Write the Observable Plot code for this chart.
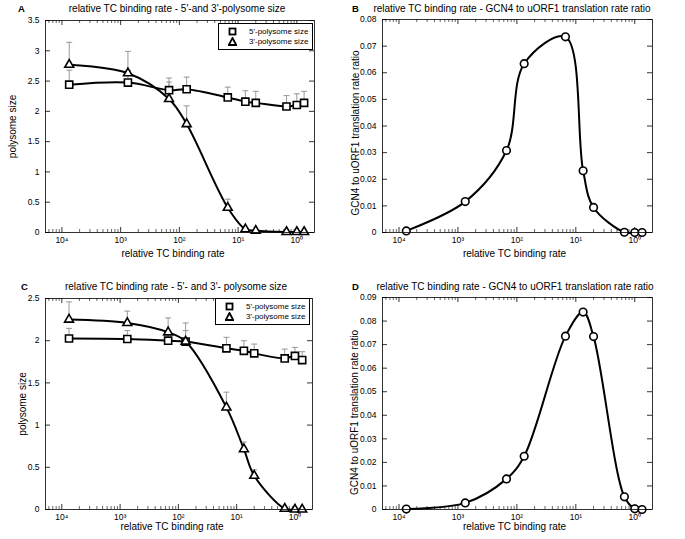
<!DOCTYPE html>
<html><head><meta charset="utf-8">
<script src="https://cdn.jsdelivr.net/npm/d3@7"></script>
<script src="https://cdn.jsdelivr.net/npm/@observablehq/plot@0.6"></script>
<style>
body{margin:0;background:#fff;font-family:"Liberation Sans",Arial,sans-serif;}
#wrap{position:relative;width:685px;height:539px;overflow:hidden;background:#fff;}
.title{position:absolute;font-size:10px;white-space:nowrap;transform:translateX(-50%);line-height:12px;}
.letter{position:absolute;font-size:9.5px;font-weight:bold;line-height:10px;}
.legend{position:absolute;border:1px solid #000;background:#fff;font-size:8px;line-height:10px;box-sizing:border-box;}
.legend div{position:relative;height:10px;padding-left:30px;}
.legend svg{position:absolute;left:9px;top:0;}
</style></head><body><div id="wrap"></div>
<script>
// ---- data ----
const rates = [0.000133, 0.00133, 0.00667, 0.0133, 0.0667, 0.133, 0.2, 0.667, 1, 1.33];
const xTickValues = [1e-4, 1e-3, 1e-2, 1e-1, 1];
const xTickLabels = ["10⁴", "10³", "10²", "10¹", "10⁰"];

const aPoly5 = [2.44, 2.475, 2.35, 2.365, 2.23, 2.16, 2.14, 2.08, 2.105, 2.14];
const aPoly5Err = [0.24, 0.2, 0.2, 0.2, 0.17, 0.18, 0.19, 0.18, 0.185, 0.19];
const aPoly3 = [2.77, 2.63, 2.205, 1.79, 0.41, 0.055, 0.03, 0.01, 0.01, 0.01];
const aPoly3Err = [0.37, 0.36, 0.28, 0.30, 0.14, 0.02, 0.01, 0, 0, 0];
const aYTicks = [0, 0.5, 1, 1.5, 2, 2.5, 3, 3.5];

const bRatio = [0.0006, 0.0116, 0.0308, 0.0634, 0.0735, 0.0232, 0.0094, 0.0001, 0, 0];
const bYTicks = [0, 0.01, 0.02, 0.03, 0.04, 0.05, 0.06, 0.07, 0.08];

const cPoly5 = [2.026, 2.02, 2.0, 1.99, 1.91, 1.88, 1.85, 1.79, 1.82, 1.77];
const cPoly5Err = [0.12, 0.1, 0.1, 0.13, 0.13, 0.12, 0.11, 0.11, 0.1, 0.1];
const cPoly3 = [2.25, 2.21, 2.10, 1.99, 1.21, 0.715, 0.40, 0.01, 0, 0];
const cPoly3Err = [0.21, 0.14, 0.17, 0.22, 0.18, 0.085, 0.07, 0, 0, 0];
const cYTicks = [0, 0.5, 1, 1.5, 2, 2.5];

const dRatio = [0.0002, 0.0028, 0.013, 0.0226, 0.0736, 0.0838, 0.0734, 0.0054, 0.0003, 0];
const dYTicks = [0, 0.01, 0.02, 0.03, 0.04, 0.05, 0.06, 0.07, 0.08, 0.09];

const xLabel = "relative TC binding rate";
const polyTitle = "relative TC binding rate - 5'-and 3'-polysome size";
const polyTitleC = "relative TC binding rate - 5'- and 3'- polysome size";
const ratioTitle = "relative TC binding rate - GCN4 to uORF1 translation rate ratio";
const polyYLabel = "polysome size";
const ratioYLabel = "GCN4 to uORF1 translation rate ratio";
const legendLabels = ["5'-polysome size", "3'-polysome size"];

// ---- helpers ----
const xDomain = [5.25e-5, 2];
const minorX = [];
for (let e = -5; e <= 0; e++) for (let m = 2; m <= 9; m++) {
  const v = m * Math.pow(10, e);
  if (v > xDomain[0] && v < xDomain[1]) minorX.push(v);
}
const cap = {draw(ctx, size) { const w = Math.sqrt(size / Math.PI); ctx.moveTo(-w, 0); ctx.lineTo(w, 0); }};
const rows = (ys, errs) => rates.map((x, i) => ({x, y: ys[i], top: ys[i] + (errs ? errs[i] : 0)}));

function makePanel(o) {
  const innerW = o.width - o.ml - o.mr;
  const innerH = o.height - o.mt - o.mb;
  const marks = [
    Plot.ruleX(xTickValues, {insetTop: innerH - 5, stroke: "#000", strokeWidth: 0.8}),
    Plot.ruleX(xTickValues, {insetBottom: innerH - 5, stroke: "#000", strokeWidth: 0.8}),
    Plot.ruleX(minorX, {insetTop: innerH - 3, stroke: "#000", strokeWidth: 0.6}),
    Plot.ruleX(minorX, {insetBottom: innerH - 3, stroke: "#000", strokeWidth: 0.6}),
    Plot.ruleY(o.yTicks, {insetRight: innerW - 5, stroke: "#000", strokeWidth: 0.8}),
    Plot.ruleY(o.yTicks, {insetLeft: innerW - 5, stroke: "#000", strokeWidth: 0.8}),
    Plot.axisX({ticks: xTickValues, tickSize: 0, tickPadding: 4, fontSize: 8.5,
      tickFormat: d => xTickLabels[xTickValues.indexOf(d)], label: null}),
    Plot.axisY({ticks: o.yTicks, tickSize: 0, tickPadding: 6, fontSize: 8.5,
      tickFormat: d => String(d), label: null}),
    Plot.text([xLabel], {text: d => d, frameAnchor: "bottom", textAnchor: "middle", dy: o.xlDy, dx: o.xlDx, fontSize: 10}),
    Plot.text([o.yLabel], {text: d => d, frameAnchor: "left", textAnchor: "middle", dx: o.ylDx, dy: o.ylDy, rotate: -90, fontSize: 10})
  ];
  for (const s of o.series) {
    if (s.err) {
      marks.push(Plot.ruleX(s.data, {x: "x", y1: "y", y2: "top", stroke: "#9a9a9a", strokeWidth: 1}));
      marks.push(Plot.dot(s.data, {x: "x", y: "top", symbol: cap, r: 3, stroke: "#9a9a9a", strokeWidth: 1}));
    }
  }
  for (const s of o.series) {
    marks.push(Plot.line(s.data, {x: "x", y: "y", curve: "catmull-rom", stroke: "#000", strokeWidth: 2}));
  }
  for (const s of o.series) {
    marks.push(Plot.dot(s.data, {x: "x", y: "y", symbol: s.symbol, r: s.r, fill: "#fff", stroke: "#000", strokeWidth: 1.6}));
  }
  marks.push(Plot.frame({stroke: "#000", strokeWidth: 0.8}));
  const svg = Plot.plot({
    width: o.width, height: o.height,
    marginLeft: o.ml, marginRight: o.mr, marginTop: o.mt, marginBottom: o.mb,
    style: {fontFamily: '"Liberation Sans", Arial, sans-serif', fontSize: "10px", background: "transparent", color: "#000", overflow: "visible"},
    x: {type: "log", domain: xDomain, axis: null},
    y: {domain: o.yDomain, axis: null},
    marks
  });
  svg.style.position = "absolute";
  svg.style.left = o.left + "px";
  svg.style.top = o.top + "px";
  return svg;
}

const wrap = document.getElementById("wrap");
function addDiv(cls, text, style) {
  const d = document.createElement("div");
  d.className = cls; d.textContent = text;
  Object.assign(d.style, style);
  wrap.appendChild(d);
  return d;
}
function addLegend(left, top) {
  const lg = document.createElement("div");
  lg.className = "legend";
  Object.assign(lg.style, {left: left + "px", top: top + "px", width: "95px", height: "27px", paddingTop: "3px"});
  const syms = [
    '<rect x="1.5" y="1.5" width="6" height="6" fill="#fff" stroke="#000" stroke-width="1.8"/>',
    '<path d="M4.5,1 L8.3,8 L0.7,8 Z" fill="#fff" stroke="#000" stroke-width="1.8"/>'
  ];
  legendLabels.forEach((t, i) => {
    const row = document.createElement("div");
    row.innerHTML = '<svg width="9" height="9" viewBox="0 0 9 9">' + syms[i] + '</svg>';
    row.appendChild(document.createTextNode(t));
    lg.appendChild(row);
  });
  wrap.appendChild(lg);
}

// Panel A
wrap.appendChild(makePanel({left: 0, top: 0, width: 340, height: 270, ml: 45, mr: 26, mt: 20, mb: 38,
  yDomain: [0, 3.5], yTicks: aYTicks, yLabel: polyYLabel, xlDy: 24, xlDx: -7, ylDx: -33, ylDy: 0,
  series: [
    {data: rows(aPoly5, aPoly5Err), err: true, symbol: "square", r: 4},
    {data: rows(aPoly3, aPoly3Err), err: true, symbol: "triangle", r: 3.3}
  ]}));
// Panel B
wrap.appendChild(makePanel({left: 340, top: 0, width: 345, height: 270, ml: 42, mr: 33, mt: 19, mb: 38,
  yDomain: [0, 0.08], yTicks: bYTicks, yLabel: ratioYLabel, xlDy: 24, xlDx: -3, ylDx: -27, ylDy: 7,
  series: [{data: rows(bRatio), err: false, symbol: "circle", r: 3.8}]}));
// Panel C
wrap.appendChild(makePanel({left: 0, top: 270, width: 340, height: 269, ml: 45, mr: 28, mt: 28, mb: 30,
  yDomain: [0, 2.5], yTicks: cYTicks, yLabel: polyYLabel, xlDy: 20, xlDx: -7, ylDx: -23, ylDy: 0,
  series: [
    {data: rows(cPoly5, cPoly5Err), err: true, symbol: "square", r: 4},
    {data: rows(cPoly3, cPoly3Err), err: true, symbol: "triangle", r: 3.3}
  ]}));
// Panel D
wrap.appendChild(makePanel({left: 340, top: 270, width: 345, height: 269, ml: 42, mr: 33, mt: 27, mb: 30,
  yDomain: [0, 0.09], yTicks: dYTicks, yLabel: ratioYLabel, xlDy: 20, xlDx: -3, ylDx: -28, ylDy: 9,
  series: [{data: rows(dRatio), err: false, symbol: "circle", r: 3.8}]}));

// titles, letters, legends
addDiv("title", polyTitle, {left: "177px", top: "3px"});
addDiv("title", ratioTitle, {left: "512px", top: "3px"});
addDiv("title", polyTitleC, {left: "176px", top: "281px"});
addDiv("title", ratioTitle, {left: "515px", top: "281px"});
addDiv("letter", "A", {left: "18px", top: "4px"});
addDiv("letter", "B", {left: "352px", top: "4px"});
addDiv("letter", "C", {left: "21px", top: "282px"});
addDiv("letter", "D", {left: "352px", top: "282px"});
addLegend(218, 23);
addLegend(215, 298);
</script></body></html>
